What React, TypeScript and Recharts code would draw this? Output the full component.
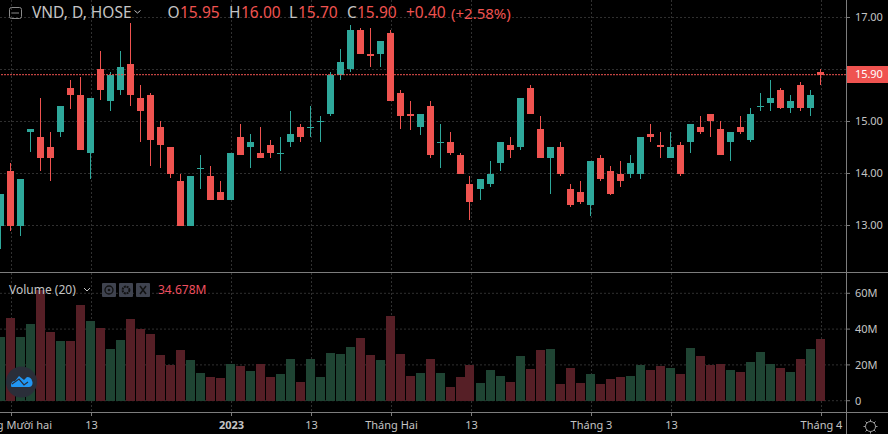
import React from "react";
import { ComposedChart, Bar, XAxis, YAxis, CartesianGrid, ReferenceLine } from "recharts";

const opens = [13.0,14.05,13.0,14.8,14.7,14.5,14.8,15.65,15.5,14.4,16.0,15.4,15.6,16.1,15.45,15.5,14.9,14.5,13.85,13.0,14.1,13.95,13.65,13.5,14.7,14.5,14.4,14.55,14.4,14.6,14.9,14.9,15.0,15.15,15.9,16.0,16.75,16.3,16.3,16.7,15.55,15.15,14.9,15.3,14.6,14.6,14.35,13.8,13.7,13.8,14.2,14.55,14.5,15.65,14.85,14.3,14.5,13.7,13.65,13.4,14.3,14.05,14.0,14.0,14.0,14.75,14.55,14.3,14.55,14.6,14.9,15.15,14.85,14.6,14.9,14.65,15.3,15.35,15.6,15.25,15.7,15.25,15.95];
const closes = [13.6,13.0,13.9,14.85,14.3,14.3,15.3,15.5,14.45,15.45,15.6,15.9,16.05,15.5,15.2,14.65,14.55,14.0,13.0,13.95,14.1,13.5,13.5,14.4,14.35,14.6,14.3,14.4,14.4,14.75,14.7,14.9,15.0,15.9,16.15,16.75,16.3,16.25,16.55,15.4,15.1,15.1,15.15,14.35,14.6,14.4,14.0,13.45,13.9,14.0,14.6,14.45,15.45,15.15,14.3,14.5,14.0,13.4,13.45,14.25,13.9,13.6,13.85,14.2,14.7,14.7,14.5,14.5,14.0,14.95,14.8,15.0,14.35,14.8,14.8,15.15,15.3,15.45,15.25,15.4,15.25,15.5,15.9];
const highs = [13.6,14.2,13.9,14.85,15.45,14.8,15.3,15.8,15.85,15.45,16.35,15.95,16.35,16.9,15.7,15.55,15.0,14.5,14.0,13.95,14.35,14.15,13.85,14.4,14.95,14.75,14.9,14.65,14.7,15.2,14.95,15.3,15.1,15.95,16.4,16.85,16.8,16.8,16.55,16.75,15.6,15.4,15.15,15.4,14.95,14.8,14.4,13.95,13.9,14.25,14.6,14.7,15.45,15.7,15.1,14.5,14.6,13.8,13.85,14.25,14.35,14.15,14.25,14.35,14.7,14.95,14.8,14.8,14.6,14.95,15.1,15.15,15.0,14.8,15.1,15.25,15.55,15.8,15.65,15.5,15.75,15.6,16.0];
const lows = [12.55,12.9,12.8,14.4,14.05,13.85,14.7,15.25,14.45,13.9,15.4,15.2,15.5,15.3,14.6,14.15,14.1,13.9,13.0,13.0,13.7,13.5,13.5,13.5,14.35,14.1,14.3,14.3,14.05,14.5,14.6,14.7,14.6,15.1,15.8,15.95,16.3,16.05,16.05,15.4,14.85,14.85,14.75,14.3,14.1,14.35,14.0,13.1,13.5,13.75,14.05,14.3,14.45,15.15,14.3,13.6,13.95,13.35,13.4,13.2,13.85,13.6,13.75,13.9,13.9,14.6,14.3,14.3,13.95,14.4,14.75,14.7,14.35,14.25,14.75,14.6,15.2,15.2,15.25,15.15,15.2,15.1,15.7];
const volumes = [35.6,46.2,35.6,42.8,61.8,38.4,33.3,33.3,53.4,44.5,40.6,28.9,33.9,45.6,40,37.2,25.5,19.9,28.3,22.7,15.5,13.2,12.7,20.5,19.4,16.6,20.5,13.2,14.9,23.3,10.4,23.3,13.2,26.6,26,30,35,25.5,22.7,47.3,26,13.8,15.5,23.3,15.5,7.6,13.2,19.9,9.9,17.1,13.8,10.4,25,17.7,28.3,28.9,9.3,18.2,9.9,14.9,9.3,12.1,13.2,13.8,19.9,17.1,19.4,18.2,14.9,29.4,25,19.9,20.5,17.1,16,21.6,27.2,20.5,18.2,16,23.3,28.9,34.678];

const priceTicks = [13, 14, 15, 15.9, 17];
const priceGrid = [13, 14, 15, 16, 17];
const volumeTicks = [0, 20, 40, 60];
const timeTicks = [1, 9, 23, 31, 39, 47, 59, 67, 82];
const timeLabels = ["Tháng Mười hai", "13", "2023", "13", "Tháng Hai", "13", "Tháng 3", "13", "Tháng 4"];

const rows = opens.map((open, i) => ({
  i, open, close: closes[i], high: highs[i], low: lows[i], volume: volumes[i],
}));

const UP = "#2ea89b";
const DOWN = "#ef5350";
const UP_DIM = "#1f4433";
const DOWN_DIM = "#561f26";
const AXIS = "#7d7d7d";
const GRID = "#303030";
const TEXT = "#c4c4c4";
const FONT = "'Noto Sans', sans-serif";

const xDomain: [number, number] = [-0.15, 84.45];

const Candle = (p: any) => {
  const { x, y, width, height, payload } = p;
  const cx = Math.round(x + width / 2 - 1.5);
  const span = payload.high - payload.low || 1;
  const toY = (v: number) => y + ((payload.high - v) / span) * height;
  const top = Math.round(toY(Math.max(payload.open, payload.close)));
  const bottom = Math.round(toY(Math.min(payload.open, payload.close)));
  const color = payload.close >= payload.open ? UP : DOWN;
  return (
    <g shapeRendering="crispEdges">
      <rect x={cx} y={Math.round(y)} width={1} height={Math.max(1, Math.round(height))} fill={color} />
      <rect x={cx - 3} y={top} width={7} height={Math.max(1, bottom - top)} fill={color} />
    </g>
  );
};

const VolumeBar = (p: any) => {
  const { x, y, width, height, payload } = p;
  const cx = Math.round(x + width / 2 - 1.5);
  return (
    <rect x={cx - 4} y={y} width={9} height={height} shapeRendering="crispEdges"
      fill={payload.close >= payload.open ? UP_DIM : DOWN_DIM} />
  );
};

const PriceTick = (p: any) => {
  const { y, payload } = p;
  const isLast = payload.value === 15.9;
  return (
    <g>
      {isLast && <rect x={846} y={66} width={42} height={17} fill={DOWN} />}
      <text x={855} y={isLast ? 74.5 : y} dy="0.36em" fontFamily={FONT} fontSize={11} letterSpacing={-0.1}
        fill={isLast ? "#ffffff" : TEXT}>
        {payload.value.toFixed(2)}
      </text>
    </g>
  );
};

const VolumeTick = (p: any) => {
  const { y, payload } = p;
  return (
    <text x={855} y={y} dy="0.36em" fontFamily={FONT} fontSize={11} fill={TEXT}>
      {payload.value === 0 ? "0" : `${payload.value}M`}
    </text>
  );
};

const TimeTick = (p: any) => {
  const { x, payload } = p;
  const label = timeLabels[timeTicks.indexOf(payload.value)];
  return (
    <text x={x} y={152} dy="0.36em" textAnchor="middle" fontFamily={FONT} fontSize={11}
      fontWeight={label === "2023" ? 700 : 400} fill={TEXT}>
      {label}
    </text>
  );
};

const Label = ({ x, y, size, color, weight, children }: any) => (
  <span style={{ position: "absolute", left: x, top: y, transform: "translateY(-50%)", fontFamily: FONT, fontSize: size,
    color, fontWeight: weight ?? 400, whiteSpace: "nowrap", lineHeight: 1 }}>{children}</span>
);

const Header = () => (
  <>
    <Label x={32} y={13} size={15.5} color={TEXT}>VND, D, HOSE</Label>
    <Label x={167.5} y={13} size={15.5} color={TEXT}>O</Label>
    <Label x={180} y={13} size={15.5} color={DOWN}>15.95</Label>
    <Label x={229} y={13} size={15.5} color={TEXT}>H</Label>
    <Label x={241} y={13} size={15.5} color={DOWN}>16.00</Label>
    <Label x={289} y={13} size={15.5} color={TEXT}>L</Label>
    <Label x={298} y={13} size={15.5} color={DOWN}>15.70</Label>
    <Label x={347} y={13} size={15.5} color={TEXT}>C</Label>
    <Label x={357} y={13} size={15.5} color={DOWN}>15.90</Label>
    <Label x={406} y={13} size={15.5} color={DOWN}>+0.40</Label>
    <Label x={451} y={13} size={15} color={DOWN}>(+2.58%)</Label>
    <Label x={9} y={290} size={12} color={TEXT}>Volume (20)</Label>
    <Label x={158} y={290} size={12} color="#ef4f5f">34.678M</Label>
  </>
);

const Decor = () => (
  <svg width={888} height={434} style={{ position: "absolute", left: 0, top: 0, pointerEvents: "none" }}>
    <line x1={0} x2={888} y1={272.5} y2={272.5} stroke={AXIS} />
    <line x1={0} x2={888} y1={412.5} y2={412.5} stroke={AXIS} />
    <line x1={846.5} x2={846.5} y1={0} y2={434} stroke={AXIS} />
    {/* legend collapse box */}
    <rect x={9.5} y={7.5} width={12} height={11} rx={2} fill="none" stroke="#8a8a8a" />
    <line x1={12} x2={19} y1={13} y2={13} stroke="#8a8a8a" />
    <path d="M134.5 10.5 L137.5 13 L140.5 10.5" fill="none" stroke={TEXT} />
    <path d="M84 288 L87 291 L90 288" fill="none" stroke={TEXT} />
    {/* volume pane buttons */}
    <rect x={102} y={283} width={14} height={14} rx={1} fill="#3f434f" />
    <rect x={119} y={283} width={14} height={14} rx={1} fill="#3f434f" />
    <rect x={136} y={283} width={14} height={14} rx={1} fill="#3f434f" />
    <circle cx={109} cy={290} r={4} fill="none" stroke="#111" strokeWidth={1.3} />
    <circle cx={109} cy={290} r={1.3} fill="#111" />
    <circle cx={126} cy={290} r={3.4} fill="none" stroke="#111" strokeWidth={2} strokeDasharray="2 0.7" />
    <path d="M140 286 L146 294 M146 286 L140 294" stroke="#111" strokeWidth={1.5} />
    {/* logo */}
    <circle cx={21.5} cy={382} r={15.5} fill="#2a2e39" />
    <path d="M11 386 C11 382 13 381 15 381 L19 376 L24 380 L27 377 C30 377 32 379 32 381 C33 382 33 387 29 387 L13 387 C12 387 11 387 11 386 Z" fill="#2196f3" />
    <path d="M12 384 L19 379 L24 385 L28 382" fill="none" stroke="#2a2e39" strokeWidth={1.2} />
    {/* settings gear */}
    <circle cx={870.5} cy={426.5} r={5} fill="none" stroke="#a0a0a0" />
    <path d="M870.5 419.5V421.5M870.5 431.5V433.5M863.5 426.5H865.5M875.5 426.5H877.5M865.5 421.5L867 423M874 430L875.5 431.5M865.5 431.5L867 430M874 423L875.5 421.5" stroke="#a0a0a0" />
  </svg>
);

export default function App() {
  return (
    <div style={{ position: "fixed", left: 0, top: 0, width: 888, height: 434, background: "#000", overflow: "hidden" }}>
      <div style={{ position: "absolute", left: 0, top: 0 }}>
        <ComposedChart width={888} height={272} data={rows} margin={{ top: 0, right: 0, bottom: 0, left: 0 }}>
          <CartesianGrid stroke={GRID} strokeDasharray="2 2" horizontalValues={priceGrid} verticalValues={timeTicks} />
          <XAxis dataKey="i" type="number" domain={xDomain} allowDataOverflow hide ticks={timeTicks} />
          <YAxis orientation="right" width={42} domain={[12.1058, 17.3365]} allowDataOverflow ticks={priceTicks}
            axisLine={false} tickLine={{ stroke: AXIS }} tickSize={4} tick={<PriceTick />} interval={0} />
          <ReferenceLine y={15.9} stroke={DOWN} strokeDasharray="2 1" />
          <Bar dataKey={(d: any) => [d.low, d.high]} barSize={7} shape={<Candle />} isAnimationActive={false} />
        </ComposedChart>
      </div>
      <div style={{ position: "absolute", left: 0, top: 273 }}>
        <ComposedChart width={888} height={161} data={rows} margin={{ top: 0, right: 0, bottom: 0, left: 0 }}>
          <CartesianGrid stroke={GRID} strokeDasharray="2 2" horizontalValues={volumeTicks} verticalValues={timeTicks} />
          <XAxis dataKey="i" type="number" domain={xDomain} allowDataOverflow ticks={timeTicks} interval={0} height={22}
            axisLine={false} tickLine={{ stroke: AXIS }} tickSize={4} tick={<TimeTick />} />
          <YAxis orientation="right" width={42} domain={[-6.31, 71.34]} allowDataOverflow ticks={volumeTicks} interval={0}
            axisLine={false} tickLine={{ stroke: AXIS }} tickSize={4} tick={<VolumeTick />} />
          <Bar dataKey="volume" barSize={9} shape={<VolumeBar />} isAnimationActive={false} />
        </ComposedChart>
      </div>
      <Decor />
      <Header />
    </div>
  );
}
